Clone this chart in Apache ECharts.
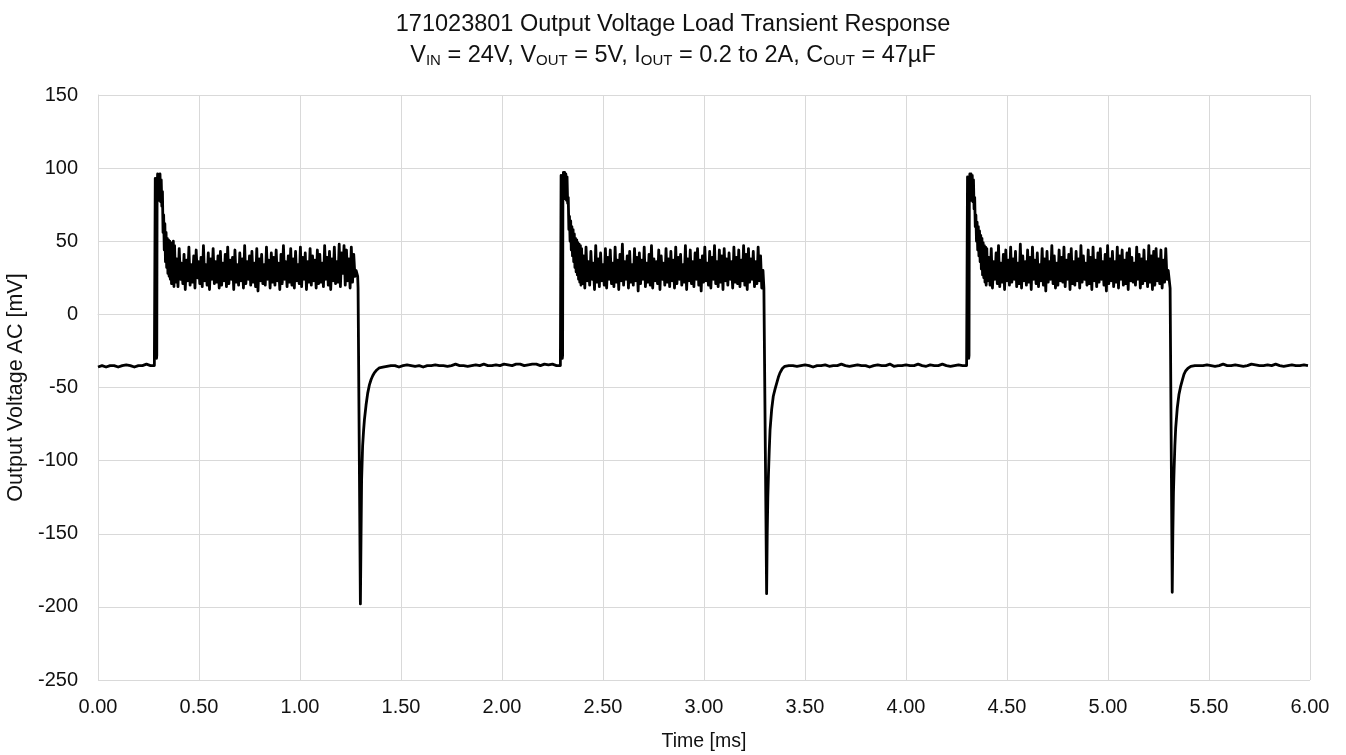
<!DOCTYPE html>
<html>
<head>
<meta charset="utf-8">
<script src="https://cdn.jsdelivr.net/npm/echarts@6/dist/echarts.min.js"></script>
<style>
html,body{margin:0;padding:0;background:#fff;}
#chart{width:1346px;height:755px;}
</style>
</head>
<body>
<div id="chart"></div>
<script>
// ---------- DATA (time in ms, voltage in mV) ----------
const xTicks = ['0.00','0.50','1.00','1.50','2.00','2.50','3.00','3.50','4.00','4.50','5.00','5.50','6.00'];
const yTicks = [-250,-200,-150,-100,-50,0,50,100,150];

const baselineStep = 0.02;
const rippleStep = 0.006;

// baseline before first load step (starts at 0.00 ms)
const baseline0Start = 0.00;
const baseline0 = [-36,-35,-36,-35,-35,-36,-35,-34.5,-35,-36,-35,-35,-34,-35];

// cycle 1 : load step up and overshoot
const rise1 = [[0.279,-35],[0.2835,93],[0.2865,76],[0.2895,-30],[0.291,-28],[0.2925,80],[0.295,96],[0.298,80],[0.301,95],[0.304,78],[0.307,96],[0.310,77],[0.313,92],[0.316,74],[0.319,84],[0.322,56],[0.325,68],[0.328,44],[0.331,62],[0.334,36],[0.337,56],[0.340,32],[0.343,52],[0.346,28],[0.349,51],[0.352,26],[0.355,50],[0.358,24],[0.361,49],[0.364,21],[0.367,48],[0.370,22],[0.373,50],[0.376,19],[0.379,47]];
const ripple1Start = 0.384;
const ripple1 = [
22,38,19,45,24,35,21,41,17,37,23,46,20,34,22,40,18,44,25,36,
21,39,19,47,23,34,20,42,17,38,24,45,21,36,22,40,18,43,20,35,
23,41,19,46,21,37,24,39,17,44,22,34,20,42,23,38,18,47,21,36,
24,40,20,43,22,35,19,45,16,38,23,41,21,34,20,46,24,37,18,42,
22,39,20,44,23,35,17,41,21,47,24,36,19,40,22,45,20,38,18,43,
23,34,21,46,19,39,24,42,17,36,22,45,20,40,23,37,18,44,21,41,
22,35,19,47,24,39,20,43,17,38,23,46,21,36,22,48,19,42,28,47,
20,44,23,38,18,46,22,41,26,30];
const fall1 = [[1.2855,26],[1.2875,18],[1.299,-198],[1.302,-154],[1.305,-113],[1.310,-90],[1.315,-79],[1.319,-72],[1.327,-62],[1.335,-54],[1.344,-48],[1.352,-44.5],[1.360,-42],[1.368,-40],[1.380,-38],[1.393,-36.5],[1.410,-36]];
const baseline1Start = 1.43;
const baseline1 = [-35.5,-35,-35,-36,-35,-34.5,-35,-35.5,-35,-36,-35,-35,-34.5,-35,-35,-35.5,-35,-34,-35,-35,-35.5,-35,-34.5,-35,-34,-35,-35,-34.5,-35,-34,-34.5,-35,-34,-34,-35,-34.5,-34,-34,-35,-34,-34.5,-34,-35];

// cycle 2
const rise2 = [[2.289,-35],[2.2925,95],[2.2955,78],[2.2985,-30],[2.300,-28],[2.3015,82],[2.304,97],[2.307,80],[2.310,97],[2.313,79],[2.316,96],[2.319,78],[2.322,94],[2.325,76],[2.328,80],[2.331,58],[2.334,67],[2.337,50],[2.340,64],[2.343,44],[2.346,60],[2.349,40],[2.352,58],[2.355,36],[2.358,55],[2.361,32],[2.364,52],[2.367,29],[2.370,51],[2.373,27],[2.376,49],[2.379,24],[2.382,48],[2.385,22],[2.388,47],[2.391,20],[2.394,45]];
const ripple2Start = 2.398;
const ripple2 = [
21,40,18,46,23,36,20,43,24,35,17,47,22,38,19,42,23,34,20,45,
18,39,24,44,21,35,19,46,22,37,17,41,23,48,20,36,24,40,18,43,
22,34,20,45,23,39,16,42,21,37,24,46,19,35,22,41,20,47,18,38,
23,36,21,44,17,40,24,35,20,45,22,38,19,43,23,37,18,46,21,39,
24,41,20,34,22,47,17,38,23,44,21,36,19,42,24,45,20,37,16,40,
22,46,23,35,20,43,18,39,24,47,21,36,19,44,22,40,17,45,23,38,
20,42,24,36,18,46,22,39,21,44,19,37,23,47,20,41,17,45,22,38,
24,43,19,36,21,46,23,40,18,30];
const fall2 = [[3.2945,30],[3.2965,18],[3.310,-191],[3.313,-150],[3.316,-125],[3.319,-110],[3.323,-93],[3.327,-79],[3.335,-65],[3.343,-56],[3.352,-51],[3.360,-47],[3.368,-43],[3.376,-40],[3.388,-37],[3.400,-35.5],[3.420,-35]];
const baseline2Start = 3.44;
const baseline2 = [-35,-35.5,-35,-34.5,-35,-36,-35,-35,-34.5,-35.5,
-35,-35,-34,-35,-35.5,-35,-34.5,-35,-35,-36,
-35,-34.5,-35,-35,-34,-35.5,-35,-35,-34.5,-35,
-35,-34,-35,-35.5,-34.5,-35,-35,-34,-35,-35.5,
-35,-34.5,-35];

// cycle 3
const rise3 = [[4.300,-35],[4.3045,94],[4.3075,78],[4.3105,-30],[4.312,-28],[4.3135,80],[4.316,96],[4.319,80],[4.322,96],[4.325,78],[4.328,95],[4.331,77],[4.334,92],[4.337,72],[4.340,80],[4.343,60],[4.346,68],[4.349,50],[4.352,63],[4.355,44],[4.358,60],[4.361,40],[4.364,57],[4.367,36],[4.370,54],[4.373,31],[4.376,52],[4.379,27],[4.382,49],[4.385,25],[4.388,47],[4.391,22],[4.394,46],[4.397,20],[4.400,45]];
const ripple3Start = 4.404;
const ripple3 = [
23,39,20,45,18,36,24,42,21,47,19,35,22,41,17,44,23,37,20,46,
22,38,24,43,19,35,21,48,18,40,23,36,20,44,22,39,17,46,24,37,
21,42,19,34,23,45,20,38,16,43,22,36,24,47,21,40,18,35,20,44,
23,39,22,46,19,37,24,41,17,45,21,36,20,43,23,38,18,47,22,40,
24,35,20,44,21,39,17,46,23,37,19,42,22,45,24,36,20,41,16,47,
21,38,23,43,19,36,22,46,18,40,24,44,20,37,21,42,17,45,23,39,
22,35,20,46,24,41,18,38,21,44,23,36,19,47,22,40,17,43,20,45,
23,38,21,44,18,37,22,45,24,30];
const fall3 = [[5.3055,30],[5.3075,18],[5.318,-190],[5.321,-150],[5.324,-122],[5.327,-107],[5.331,-90],[5.335,-78],[5.343,-64],[5.351,-55],[5.360,-49],[5.368,-45],[5.376,-41],[5.385,-38.5],[5.395,-37],[5.410,-35.5],[5.430,-35]];
const baseline3Start = 5.45;
const baseline3 = [-35,-35,-34.5,-35,-35.5,-35,-34,-35,-35,-34.5,-35,-35.5,-35,-34,-34.5,-35,-35,-34.5,-35,-34,-35,-35.5,-35,-34.5,-35,-35,-34.5,-35];

// ---------- build the series ----------
function sampled(t0, step, vals){ return vals.map((v,i)=>[+(t0+i*step).toFixed(4), v]); }
const waveform = [].concat(
  sampled(baseline0Start, baselineStep, baseline0), rise1,
  sampled(ripple1Start, rippleStep, ripple1), fall1,
  sampled(baseline1Start, baselineStep, baseline1), rise2,
  sampled(ripple2Start, rippleStep, ripple2), fall2,
  sampled(baseline2Start, baselineStep, baseline2), rise3,
  sampled(ripple3Start, rippleStep, ripple3), fall3,
  sampled(baseline3Start, baselineStep, baseline3)
);

const FONT = '"Liberation Sans", Arial, sans-serif';
const TXT = '#111111';
const GRID = '#d9d9d9';

const chart = echarts.init(document.getElementById('chart'), null, {renderer:'canvas'});
chart.setOption({
  animation: false,
  backgroundColor: '#fff',
  title: [{
    text: '171023801 Output Voltage Load Transient Response',
    left: 'center', top: 8,
    textStyle: {fontFamily: FONT, fontSize: 23.5, fontWeight: 'normal', color: TXT}
  },{
    text: '{n|V}{s|IN}{n| = 24V, V}{s|OUT}{n| = 5V, I}{s|OUT}{n| = 0.2 to 2A, C}{s|OUT}{n| = 47µF}',
    left: 'center', top: 33,
    textStyle: {
      fontWeight: 'normal',
      rich: {
        n: {fontFamily: FONT, fontSize: 23.5, fontWeight: 'normal', color: TXT, lineHeight: 30, verticalAlign: 'bottom'},
        s: {fontFamily: FONT, fontSize: 15, fontWeight: 'normal', color: TXT, lineHeight: 15, verticalAlign: 'bottom'}
      }
    }
  }],
  grid: {left: 98, right: 36, top: 95, bottom: 75, containLabel: false, outerBoundsMode: 'none'},
  xAxis: {
    type: 'value', min: 0, max: 6, interval: 0.5,
    name: 'Time [ms]', nameLocation: 'middle', nameGap: 52,
    nameTextStyle: {fontFamily: FONT, fontSize: 19.5, color: TXT},
    axisLine: {show: true, lineStyle: {color: GRID, width: 1}},
    axisTick: {show: false},
    splitLine: {show: true, lineStyle: {color: GRID, width: 1}},
    axisLabel: {fontFamily: FONT, fontSize: 20, color: TXT, margin: 17,
      formatter: v => xTicks[Math.round(v/0.5)] }
  },
  yAxis: {
    type: 'value', min: -250, max: 150, interval: 50,
    name: 'Output Voltage AC [mV]', nameLocation: 'middle', nameGap: 58, nameRotate: 90,
    nameTextStyle: {fontFamily: FONT, fontSize: 21.5, color: TXT},
    axisLine: {show: true, lineStyle: {color: GRID, width: 1}},
    axisTick: {show: false},
    splitLine: {show: true, lineStyle: {color: GRID, width: 1}},
    axisLabel: {fontFamily: FONT, fontSize: 20, color: TXT, margin: 20,
      formatter: v => String(yTicks[yTicks.indexOf(v)]) }
  },
  series: [{
    type: 'line', data: waveform, showSymbol: false, symbol: 'none',
    sampling: null, smooth: false,
    lineStyle: {color: '#000', width: 2.8, join: 'round'},
    z: 3
  }]
});
</script>
</body>
</html>
